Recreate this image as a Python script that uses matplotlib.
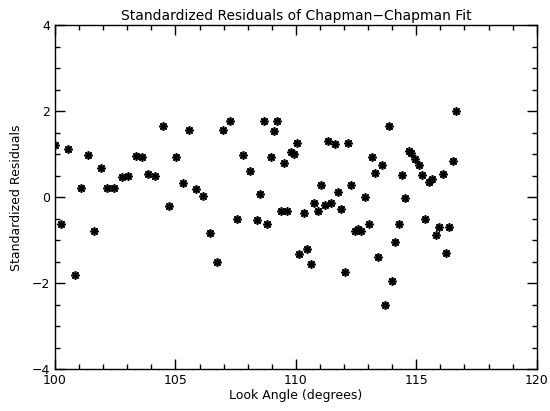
import numpy as np
import matplotlib
matplotlib.use('Agg')
import matplotlib.pyplot as plt
from matplotlib.ticker import MultipleLocator

# look angle (degrees) and standardized residuals
angle = [100.00, 100.25, 100.54, 100.83, 101.08, 101.37, 101.62, 101.91, 102.16, 102.45,
         102.77, 103.04, 103.36, 103.60, 103.87, 104.15, 104.47, 104.72, 105.02, 105.30,
         105.58, 105.86, 106.13, 106.44, 106.71, 106.99, 107.27, 107.55, 107.82, 108.10,
         108.38, 108.51, 108.68, 108.79, 108.96, 109.09, 109.23, 109.37, 109.51, 109.65,
         109.79, 109.93, 110.06, 110.13, 110.34, 110.48, 110.62, 110.76, 110.92, 111.03,
         111.20, 111.34, 111.47, 111.62, 111.75, 111.89, 112.03, 112.17, 112.30, 112.45,
         112.58, 112.72, 112.86, 113.03, 113.15, 113.29, 113.43, 113.57, 113.72, 113.86,
         114.00, 114.13, 114.27, 114.41, 114.55, 114.69, 114.80, 114.96, 115.10, 115.24,
         115.38, 115.51, 115.65, 115.82, 115.96, 116.10, 116.24, 116.37, 116.51, 116.65]
resid = [1.22, -0.62, 1.13, -1.80, 0.22, 0.99, -0.78, 0.69, 0.22, 0.23,
         0.48, 0.50, 0.97, 0.94, 0.55, 0.50, 1.66, -0.19, 0.95, 0.33,
         1.57, 0.20, 0.03, -0.82, -1.49, 1.57, 1.79, -0.50, 0.99, 0.62,
         -0.52, 0.08, 1.79, -0.62, 0.93, 1.55, 1.77, -0.31, 0.81, -0.31,
         1.06, 1.00, 1.27, -1.31, -0.35, -1.20, -1.55, -0.12, -0.32, 0.30,
         -0.17, 1.32, -0.12, 1.24, 0.13, -0.27, -1.73, 1.27, 0.28, -0.79,
         -0.73, -0.79, 0.00, -0.62, 0.95, 0.56, -1.38, 0.76, -2.51, 1.66,
         -1.95, -1.03, -0.62, 0.52, -0.01, 1.09, 1.03, 0.89, 0.76, 0.52,
         -0.51, 0.36, 0.44, -0.87, -0.69, 0.55, -1.30, -0.69, 0.84, 2.02]

fig = plt.figure(figsize=(5.5, 4.11), dpi=100)
ax = fig.add_axes([0.1, 0.101, 0.8758, 0.837])

ax.plot(angle, resid, linestyle='none', marker=(8, 2, 0), markersize=6,
        markeredgewidth=1.2, color='black')

ax.set_xlim(100, 120)
ax.set_ylim(-4, 4)
ax.xaxis.set_major_locator(MultipleLocator(5))
ax.xaxis.set_minor_locator(MultipleLocator(1))
ax.yaxis.set_major_locator(MultipleLocator(2))
ax.yaxis.set_minor_locator(MultipleLocator(0.5))
ax.tick_params(which='both', direction='in', top=True, right=True, labelsize=9)
ax.tick_params(which='major', length=7, width=1)
ax.tick_params(which='minor', length=3.5, width=1)
for s in ax.spines.values():
    s.set_linewidth(1)

ax.set_title('Standardized Residuals of Chapman\u2212Chapman Fit', fontsize=10, pad=4)
ax.set_xlabel('Look Angle (degrees)', fontsize=9, labelpad=1)
ax.set_ylabel('Standardized Residuals', fontsize=9, labelpad=6)

fig.savefig('out.png', dpi=100)
